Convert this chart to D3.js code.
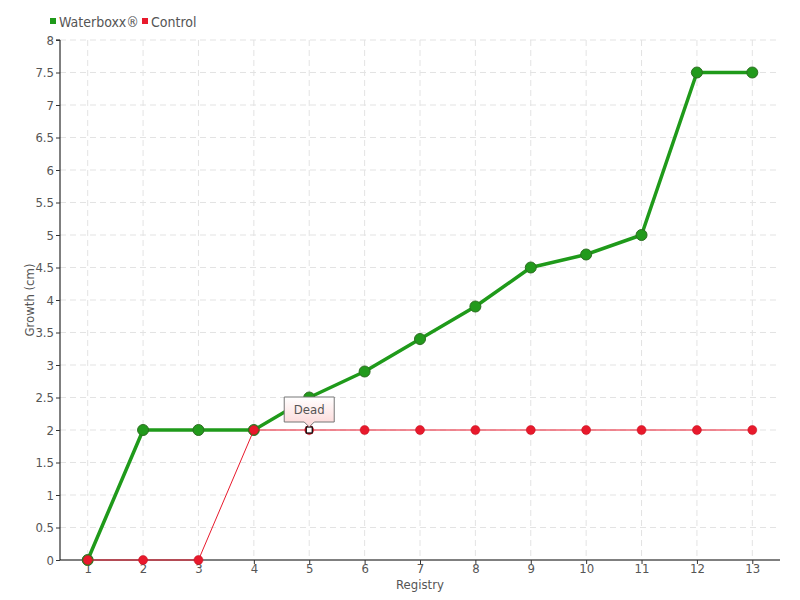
<!DOCTYPE html>
<html><head><meta charset="utf-8">
<script src="https://cdn.jsdelivr.net/npm/d3@7"></script>
<style>
body{margin:0;background:#fff;}
text{font-family:"DejaVu Sans Condensed","DejaVu Sans",sans-serif;font-stretch:condensed;fill:#555;}
</style></head>
<body><svg id="c" width="800" height="600"></svg>
<script>
const categories = ["1","2","3","4","5","6","7","8","9","10","11","12","13"];
const waterboxx = [0,2,2,2,2.5,2.9,3.4,3.9,4.5,4.7,5,7.5,7.5];
const control = [0,0,0,2,2,2,2,2,2,2,2,2,2];
const yTicks = [0,0.5,1,1.5,2,2.5,3,3.5,4,4.5,5,5.5,6,6.5,7,7.5,8];
const seriesNames = ["Waterboxx®","Control"];
const deadIndex = 4;
const deadLabel = "Dead";

const svg = d3.select("#c");
const L=60,R=780,T=40,B=560;
const x = d3.scalePoint().domain(categories).range([L,R]).padding(0.5);
const y = d3.scaleLinear().domain([0,8]).range([B,T]);
const green="#1f9a1a", red="#e8192c";

const defs = svg.append("defs");
const g1 = defs.append("linearGradient").attr("id","tip").attr("x1",0).attr("y1",0).attr("x2",0).attr("y2",1);
g1.append("stop").attr("offset","0").attr("stop-color","#ffffff");
g1.append("stop").attr("offset","1").attr("stop-color","#fcd6d6");

// grid
svg.append("g").selectAll("line").data(yTicks.slice(1)).join("line")
  .attr("x1",L).attr("x2",R).attr("y1",d=>y(d)).attr("y2",d=>y(d))
  .attr("stroke","#e3e3e3").attr("stroke-dasharray","6,4");
svg.append("g").selectAll("line").data(categories).join("line")
  .attr("x1",d=>x(d)).attr("x2",d=>x(d)).attr("y1",T).attr("y2",B)
  .attr("stroke","#e3e3e3").attr("stroke-dasharray","6,4");

// axes
const ya = svg.append("g").attr("transform",`translate(${L},0)`)
  .call(d3.axisLeft(y).tickValues(yTicks).tickSize(4).tickPadding(2).tickFormat(d=>String(d)));
ya.select(".domain").attr("stroke","#000").attr("d",`M-4,${T}H0V${B}`);
ya.selectAll(".tick line").attr("stroke","#333");
ya.selectAll("text").style("font-size","13px").attr("fill","#555");
const xa = svg.append("g").attr("transform",`translate(0,${B})`)
  .call(d3.axisBottom(x).tickSize(4).tickPadding(0));
xa.select(".domain").attr("stroke","#000").attr("d",`M${L},0H${R}`);
xa.selectAll(".tick line").attr("stroke","#333");
xa.selectAll("text").style("font-size","13px").attr("fill","#555");

svg.append("text").attr("x",420).attr("y",589).attr("text-anchor","middle")
  .style("font-size","13px").text("Registry");
svg.append("text").attr("transform","translate(34,300) rotate(-90)").attr("text-anchor","middle")
  .style("font-size","13px").text("Growth (cm)");

// lines
const line = d3.line().x((d,i)=>x(categories[i])).y(d=>y(d));
svg.append("path").datum(waterboxx).attr("d",line).attr("fill","none")
  .attr("stroke",green).attr("stroke-width",3.5).attr("stroke-linejoin","round");
svg.append("g").selectAll("circle").data(waterboxx).join("circle")
  .attr("cx",(d,i)=>x(categories[i])).attr("cy",d=>y(d)).attr("r",5.5)
  .attr("fill","#229a1c").attr("stroke","#2d6e22").attr("stroke-width",1);
svg.append("path").datum(control).attr("d",line).attr("fill","none")
  .attr("stroke",red).attr("stroke-width",1);
svg.append("g").selectAll("circle").data(control).join("circle")
  .attr("cx",(d,i)=>x(categories[i])).attr("cy",d=>y(d)).attr("r",4.5)
  .attr("fill",red).attr("stroke","#c0101e").attr("stroke-width",0.5);

// dead marker
const dx=x(categories[deadIndex]), dy=y(control[deadIndex]);
svg.append("rect").attr("x",dx-3).attr("y",dy-3).attr("width",6).attr("height",6)
  .attr("fill","#fff").attr("stroke","#000").attr("stroke-width",1.2);
// tooltip
const tw=50, th=25, tx=dx-25, ty=dy-33;
svg.append("path").attr("d",`M${tx},${ty}H${tx+tw}V${ty+th}H${dx+5}L${dx},${ty+th+5}L${dx-5},${ty+th}H${tx}Z`)
  .attr("fill","url(#tip)").attr("stroke","#777").attr("stroke-width",1);
svg.append("text").attr("x",dx).attr("y",ty+17).attr("text-anchor","middle")
  .style("font-size","13px").text(deadLabel);

// legend
const lg = svg.append("g");
const lx=[50,142];
seriesNames.forEach((n,i)=>{
  lg.append("rect").attr("x",lx[i]).attr("y",18).attr("width",6).attr("height",6).attr("fill",[green,red][i]);
  lg.append("text").attr("x",lx[i]+9).attr("y",27).style("font-size","14px").text(n);
});
</script></body></html>
